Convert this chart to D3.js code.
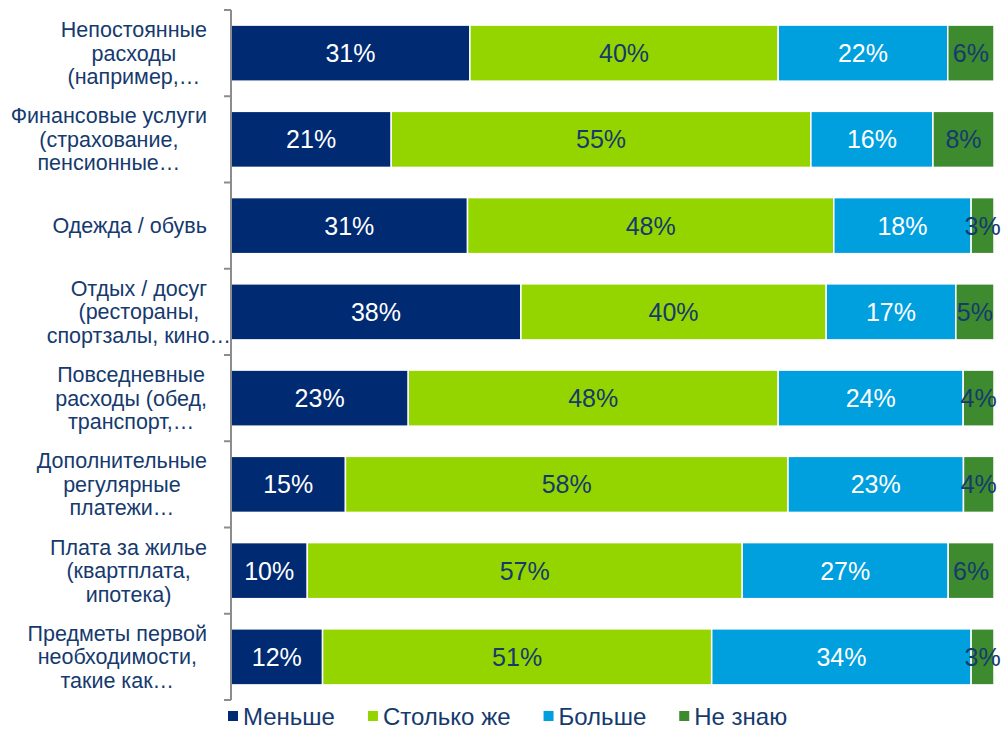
<!DOCTYPE html>
<html>
<head>
<meta charset="utf-8">
<script src="https://cdn.jsdelivr.net/npm/d3@7"></script>
<style>
  html, body { margin: 0; padding: 0; background: #fff; }
  svg { display: block; font-family: Arial, "Liberation Sans", sans-serif; }
</style>
</head>
<body>
<svg id="chart" width="1002" height="731"></svg>
<script>
// Spending categories (line breaks as they wrap on the axis)
const categories = [
  "Непостоянные\nрасходы\n(например,…",
  "Финансовые услуги\n(страхование,\nпенсионные…",
  "Одежда / обувь",
  "Отдых / досуг\n(рестораны,\nспортзалы, кино…",
  "Повседневные\nрасходы (обед,\nтранспорт,…",
  "Дополнительные\nрегулярные\nплатежи…",
  "Плата за жилье\n(квартплата,\nипотека)",
  "Предметы первой\nнеобходимости,\nтакие как…"
];

// Answer options
const seriesNames = ["Меньше", "Столько же", "Больше", "Не знаю"];

// Share of answers per category, %
const less      = [31, 21, 31, 38, 23, 15, 10, 12];
const same      = [40, 55, 48, 40, 48, 58, 57, 51];
const more      = [22, 16, 18, 17, 24, 23, 27, 34];
const dontKnow  = [6, 8, 3, 5, 4, 4, 6, 3];

const seriesValues = [less, same, more, dontKnow];
const colors = ["#002A72", "#94D500", "#00A0DF", "#3E8A2F"];
const labelColors = ["#ffffff", "#153A6E", "#ffffff", "#153A6E"];

const rows = categories.map((c, i) => {
  const r = { category: c };
  seriesNames.forEach((s, k) => { r[s] = seriesValues[k][i]; });
  return r;
});

const svg = d3.select("#chart");
const margin = { left: 231, right: 8, top: 10, bottom: 31 };
const W = 1002, H = 731;

const x = d3.scaleLinear().domain([0, 1]).range([margin.left, W - margin.right]);
const y = d3.scaleBand()
  .domain(categories)
  .range([margin.top, H - margin.bottom])
  .paddingInner(0.35)
  .paddingOuter(0.175);

// 100% stacked layout
const stack = d3.stack().keys(seriesNames).offset(d3.stackOffsetExpand);
const layers = stack(rows);

const g = svg.append("g");
layers.forEach((layer, k) => {
  const lg = g.append("g");
  lg.selectAll("rect")
    .data(layer)
    .join("rect")
    .attr("x", d => x(d[0]))
    .attr("y", d => y(d.data.category))
    .attr("width", d => x(d[1]) - x(d[0]))
    .attr("height", y.bandwidth())
    .attr("fill", colors[k])
    .attr("stroke", "#fff")
    .attr("stroke-width", 1.5);

  lg.selectAll("text")
    .data(layer)
    .join("text")
    .attr("x", d => (x(d[0]) + x(d[1])) / 2)
    .attr("y", d => y(d.data.category) + y.bandwidth() / 2)
    .attr("dy", "0.36em")
    .attr("text-anchor", "middle")
    .attr("font-size", 25)
    .attr("fill", labelColors[k])
    .text(d => d.data[seriesNames[k]] + "%");
});

// Category axis: line with ticks between the categories
const axisColor = "#8c8c8c";
const ax = svg.append("g");
ax.append("line")
  .attr("x1", margin.left).attr("x2", margin.left)
  .attr("y1", y.range()[0]).attr("y2", y.range()[1])
  .attr("stroke", axisColor).attr("stroke-width", 2);
const tickYs = d3.range(categories.length + 1).map(i => y.range()[0] + i * (y.range()[1] - y.range()[0]) / categories.length);
ax.selectAll("line.tick")
  .data(tickYs)
  .join("line")
  .attr("class", "tick")
  .attr("x1", margin.left - 7).attr("x2", margin.left)
  .attr("y1", d => d).attr("y2", d => d)
  .attr("stroke", axisColor).attr("stroke-width", 2);

// Category labels: lines centred within a right-aligned block;
// truncated lines (ending in "…") may overhang the block
const labelRight = 207;
const lineH = 23.5;
const labelG = svg.append("g").attr("fill", "#153A6E").attr("font-size", 21.5);
categories.forEach(c => {
  const lines = c.split("\n");
  const t = labelG.append("text").attr("text-anchor", "middle");
  const tspans = lines.map(l => t.append("tspan").text(l));
  const widths = tspans.map(ts => ts.node().getComputedTextLength());
  const blockW = d3.max(widths.filter((w, i) => !lines[i].endsWith("…"))) || d3.max(widths);
  const cx = labelRight - blockW / 2;
  const cy = y(c) + y.bandwidth() / 2;
  const y0 = cy - (lines.length - 1) * lineH / 2;
  tspans.forEach((ts, i) => ts.attr("x", cx).attr("y", y0 + i * lineH).attr("dy", "0.35em"));
});

// Legend
const legend = svg.append("g").attr("font-size", 24).attr("fill", "#153A6E");
let lx = 228;
const ly = 716;
seriesNames.forEach((s, k) => {
  legend.append("rect")
    .attr("x", lx).attr("y", ly - 5).attr("width", 10).attr("height", 10)
    .attr("fill", colors[k]);
  const t = legend.append("text")
    .attr("x", lx + 15).attr("y", ly).attr("dy", "0.36em").text(s);
  lx += 15 + t.node().getComputedTextLength() + 33;
});
</script>
</body>
</html>
